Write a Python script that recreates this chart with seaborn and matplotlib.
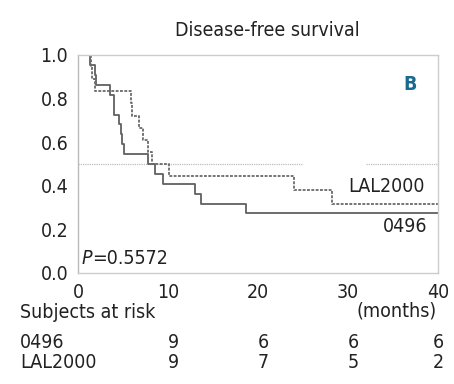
import pandas as pd
import matplotlib
matplotlib.use("Agg")
import matplotlib.pyplot as plt
import matplotlib.transforms as mtransforms
from matplotlib import font_manager
import seaborn as sns

# Kaplan-Meier steps (months, survival)
t_0496 = [0, 1.3, 1.9, 2.0, 3.56, 4.0, 4.05, 4.5, 4.8, 4.86, 5.12, 7.83, 8.5, 9.39, 12.95, 13.7, 18.7, 40]
s_0496 = [1.0, 0.955, 0.909, 0.864, 0.818, 0.773, 0.727, 0.682, 0.636, 0.591, 0.545, 0.5, 0.455, 0.409, 0.364, 0.318, 0.273, 0.273]

t_lal = [0, 1.4, 1.6, 1.85, 5.9, 5.95, 6.83, 7.27, 7.83, 8.2, 10.1, 24.05, 28.25, 40]
s_lal = [1.0, 0.944, 0.889, 0.833, 0.778, 0.722, 0.667, 0.611, 0.556, 0.5, 0.444, 0.381, 0.317, 0.317]

risk_times = [10, 20, 30, 40]
risk_0496 = [9, 6, 6, 6]
risk_lal = [9, 7, 5, 2]

df = pd.concat([
    pd.DataFrame({"time": t_0496, "surv": s_0496, "group": "0496"}),
    pd.DataFrame({"time": t_lal, "surv": s_lal, "group": "LAL2000"}),
])

sns.set_style("white")
# condensed face if there is one, otherwise a regular sans
narrow = [f.name for f in font_manager.fontManager.ttflist
          if "narrow" in f.name.lower() or "condensed" in f.name.lower()
          or f.stretch in ("condensed", "semi-condensed", 500)]
fam = narrow[0] if narrow else "Liberation Sans"
plt.rcParams['font.family'] = [fam, 'DejaVu Sans']
plt.rcParams['font.stretch'] = 'condensed'

fig = plt.figure(figsize=(4.54, 3.84), dpi=100)
ax = fig.add_axes([78/454, 1 - 273/384, 360/454, 218/384])

sns.lineplot(data=df, x="time", y="surv", hue="group", style="group",
             drawstyle="steps-post", estimator=None, sort=False,
             palette={"0496": "#606060", "LAL2000": "#6a6a6a"},
             dashes={"0496": "", "LAL2000": (1.6, 0.8)},
             linewidth=1.3, legend=False, ax=ax)

# median line at 0.5, broken near the labels
ax.axhline(0.5, xmin=0, xmax=25/40, color="#bdbdbd", lw=0.9, ls=(0, (1, 0.8)), zorder=0)
ax.axhline(0.5, xmin=32/40, xmax=1, color="#bdbdbd", lw=0.9, ls=(0, (1, 0.8)), zorder=0)

ax.set_xlim(0, 40)
ax.set_ylim(0, 1.0)
ax.set_xticks([0, 10, 20, 30, 40])
ax.set_yticks([0, 0.2, 0.4, 0.6, 0.8, 1.0])
ax.set_yticklabels(["0.0", "0.2", "0.4", "0.6", "0.8", "1.0"])
ax.set_yticks([0.1, 0.3, 0.5, 0.7, 0.9], minor=True)
ax.tick_params(axis="both", which="both", length=2, color="#999999", labelsize=14,
               labelcolor="#222222")
ax.tick_params(axis="x", pad=5)
ax.tick_params(axis="y", pad=5)
ax.set_xlabel("")
ax.set_ylabel("")

for side in ["top", "right", "bottom"]:
    ax.spines[side].set_color("#cccccc")
    ax.spines[side].set_linewidth(1.0)
ax.spines["left"].set_color("#bbbbbb")
ax.spines["left"].set_linestyle((0, (1, 1)))
ax.spines["left"].set_linewidth(1.0)

fs = 14
fig.text(267/454, 1 - 30/384, "Disease-free survival", ha="center", va="center",
         fontsize=fs, color="#222222")
ax.text(410/454, 1 - 84/384, "B", transform=fig.transFigure, ha="center", va="center",
        fontsize=fs, fontweight="bold", color="#1a6a90")
ax.text(425/454, 1 - 186/384, "LAL2000", transform=fig.transFigure, ha="right", va="center",
        fontsize=fs, color="#222222")
ax.text(427/454, 1 - 227/384, "0496", transform=fig.transFigure, ha="right", va="center",
        fontsize=fs, color="#222222")
ax.text(82/454, 1 - 258/384, "P", transform=fig.transFigure, ha="left", va="center",
        fontsize=fs, style="italic", color="#222222")
ax.text(92/454, 1 - 258/384, "=0.5572", transform=fig.transFigure, ha="left", va="center",
        fontsize=fs, color="#222222")

fig.text(437/454, 1 - 311/384, "(months)", ha="right", va="center", fontsize=fs, color="#222222")
fig.text(20/454, 1 - 312/384, "Subjects at risk", ha="left", va="center", fontsize=fs, color="#222222")

# numbers at risk under the time axis
trans = mtransforms.blended_transform_factory(ax.transData, fig.transFigure)
fig.text(20/454, 1 - 343/384, "0496", ha="left", va="center", fontsize=fs, color="#222222")
fig.text(20/454, 1 - 362/384, "LAL2000", ha="left", va="center", fontsize=fs, color="#222222")
for t, a, b in zip(risk_times, risk_0496, risk_lal):
    x = t + 0.6 if t < 40 else t
    ax.text(x, 1 - 343/384, str(a), transform=trans, ha="center", va="center",
            fontsize=fs, color="#222222")
    ax.text(x, 1 - 362/384, str(b), transform=trans, ha="center", va="center",
            fontsize=fs, color="#222222")

fig.savefig("out.png", dpi=100)
